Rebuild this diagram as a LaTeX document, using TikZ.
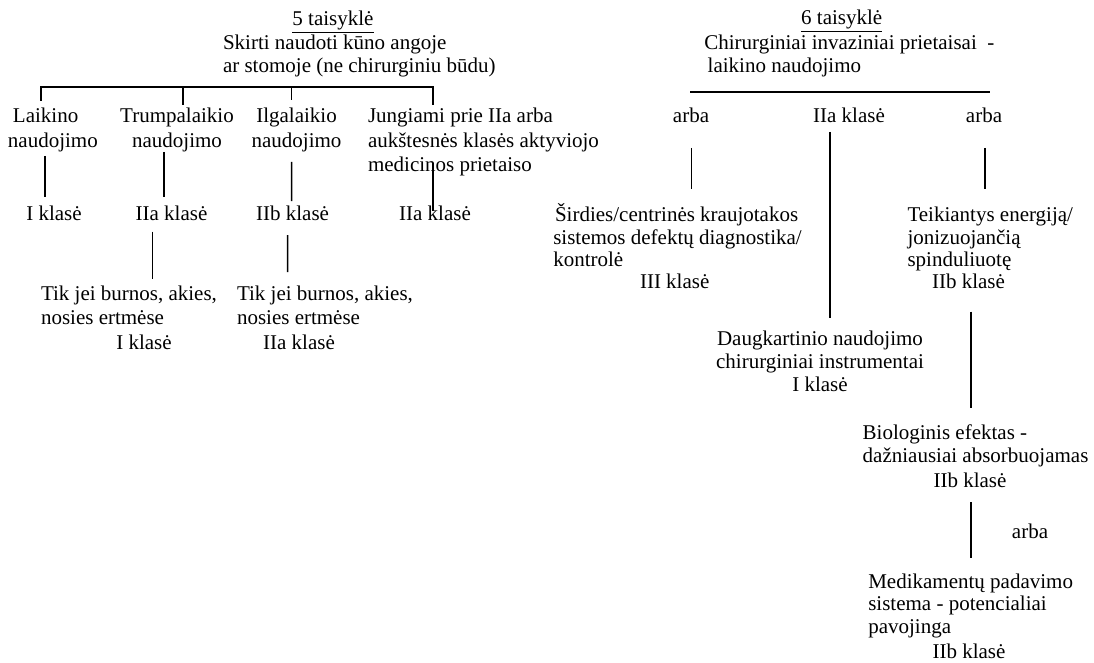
\documentclass[tikz,border=0pt]{standalone}
\usepackage{fontspec}
\setmainfont{Liberation Serif}
\usetikzlibrary{calc}
% stacked lines whose baseline is the baseline of the first line;
% the optional argument scales the distance between the lines
\newcommand\txtrows[3][1]{{\renewcommand\arraystretch{#1}%
  \begin{tabular}[t]{@{}#2@{}}#3\end{tabular}}}

\begin{document}
\begin{tikzpicture}[x=1pt,y=-1pt,
  font=\fontsize{21}{23.7}\selectfont,
  lbl/.style={inner sep=0pt, outer sep=0pt},
  wire/.style={line width=1.5pt}]
\useasboundingbox (0,0) rectangle (1094,663);

% ---------------- rule 5 ----------------
\node[lbl, anchor=base] (r5) at (333,26) {\underline{5 taisyklė}};
\node[lbl, anchor=base west] (r5d) at (223,50)
  {\txtrows[0.96]{l}{Skirti naudoti kūno angoje\\ar stomoje (ne chirurginiu būdu)}};

\node[lbl, anchor=base west] (laik) at (8,123)
  {\txtrows[1.03]{l}{\hspace*{5pt}Laikino\\naudojimo}};
\node[lbl, anchor=base] (trum) at (177,123)
  {\txtrows[1.03]{c}{Trumpalaikio\\naudojimo}};
\node[lbl, anchor=base] (ilg) at (296.5,123)
  {\txtrows[1.03]{c}{Ilgalaikio\\naudojimo}};
\node[lbl, anchor=base west] (jung) at (368,123)
  {\txtrows[1.03]{l}{Jungiami prie IIa arba\\aukštesnės klasės aktyviojo\\medicinos prietaiso}};

\node[lbl, anchor=base] (k1) at (54,220) {I klasė};
\node[lbl, anchor=base] (k2) at (171.5,220) {IIa klasė};
\node[lbl, anchor=base] (k3) at (292.6,220) {IIb klasė};
\node[lbl, anchor=base] (k4) at (435,220) {IIa klasė};

\node[lbl, anchor=base west] (tik1) at (41,300)
  {\txtrows[1.03]{l}{Tik jei burnos, akies,\\nosies ertmėse}};
\node[lbl, anchor=base] (tk1) at (144,349) {I klasė};
\node[lbl, anchor=base west] (tik2) at (237,300)
  {\txtrows[1.03]{l}{Tik jei burnos, akies,\\nosies ertmėse}};
\node[lbl, anchor=base] (tk2) at (299,349) {IIa klasė};

% bracket over the four kinds of use
\draw[wire] ($(laik.base west)+(33,-22)$) -- ++(0,-14) -| ($(jung.base west)+(65,-18)$);
\draw[wire] ($(trum.base)+(6,-18)$) -- ++(0,-18);
\draw[wire] ($(ilg.base)+(-4.8,-23)$) -- ++(0,-13);

% drops to the classes
\draw[wire] ($(laik.base west)+(37,33)$) -- ($(k1.base)+(-9,-23)$);
\draw[wire] ($(trum.base)+(-13,29)$) -- ($(k2.base)+(-7.5,-23)$);
\draw[wire] ($(ilg.base)+(-4.8,39)$) -- ($(k3.base)+(-0.9,-19)$);
\draw[wire] ($(jung.base west)+(65,40)$) -- ($(k4.base)+(-2,-9)$);
\draw[wire] ($(k2.base)+(-18.9,11.6)$) -- ($(tik1.base west)+(111.6,-21)$);
\draw[wire] ($(k3.base)+(-4.9,15)$) -- ($(tik2.base west)+(50.7,-28)$);

% ---------------- rule 6 ----------------
\node[lbl, anchor=base] (r6) at (841.7,25) {\underline{6 taisyklė}};
\node[lbl, anchor=base west] (r6d) at (704.3,50)
  {\txtrows[0.96]{l}{Chirurginiai invaziniai prietaisai\ \ -\\\hspace*{3.4pt}laikino naudojimo}};
\draw[wire] ($(r6d.base west)+(-14.3,42)$) -- ($(r6d.base west)+(285.7,42)$);

\node[lbl, anchor=base] (a1) at (691,123) {arba};
\node[lbl, anchor=base] (a2) at (849,123) {IIa klasė};
\node[lbl, anchor=base] (a3) at (984,123) {arba};

\node[lbl, anchor=base west] (sird) at (553.3,221.7)
  {\txtrows[0.95]{l}{\hspace*{1.7pt}Širdies/centrinės kraujotakos\\sistemos defektų diagnostika/\\kontrolė}};
\node[lbl, anchor=base] (ck5) at (674.7,288.5) {III klasė};

\node[lbl, anchor=base west] (teik) at (907.5,221.7)
  {\txtrows[0.95]{l}{Teikiantys energiją/\\jonizuojančią\\spinduliuotę}};
\node[lbl, anchor=base] (ck6) at (968.5,288.5) {IIb klasė};

\node[lbl, anchor=base] (daug) at (820,345)
  {\txtrows[0.985]{c}{Daugkartinio naudojimo\\chirurginiai instrumentai\\I klasė}};

\node[lbl, anchor=base west] (bio) at (862.7,439)
  {\txtrows[0.985]{l}{Biologinis efektas -\\dažniausiai absorbuojamas}};
\node[lbl, anchor=base] (ck7) at (970,487) {IIb klasė};

\node[lbl, anchor=base] (a4) at (1030,538) {arba};

\node[lbl, anchor=base west] (med) at (868.3,588.3)
  {\txtrows[0.95]{l}{Medikamentų padavimo\\sistema - potencialiai\\pavojinga}};
\node[lbl, anchor=base] (ck8) at (969,658) {IIb klasė};

\draw[wire] ($(a1.base)+(0.7,25)$) -- ($(sird.base west)+(138.4,-32.7)$);
\draw[wire] ($(a2.base)+(-19,9)$) -- ($(daug.base)+(10,-27)$);
\draw[wire] ($(a3.base)+(1,25)$) -- ($(teik.base west)+(77.5,-32.7)$);
\draw[wire] ($(ck6.base)+(2.5,23)$) -- ($(bio.base west)+(108.3,-31)$);
\draw[wire] ($(ck7.base)+(1,15)$) -- ($(med.base west)+(102.7,-30.3)$);
\end{tikzpicture}
\end{document}
